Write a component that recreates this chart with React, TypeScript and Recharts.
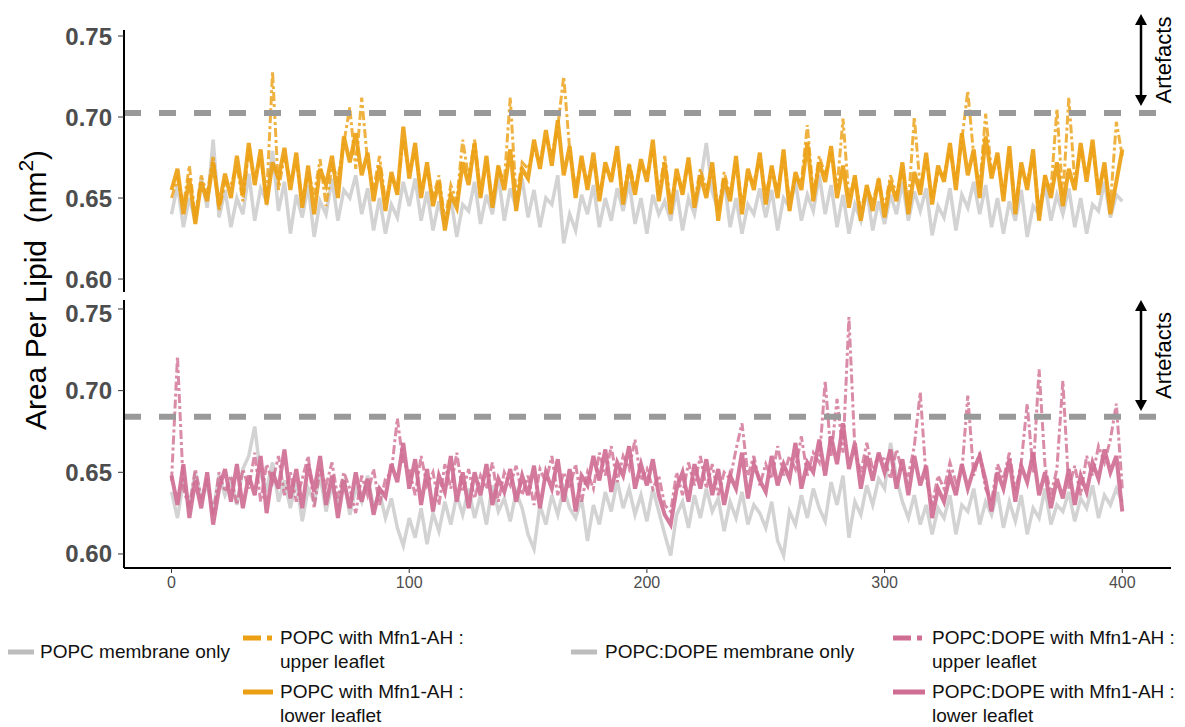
import React from "react";
import { LineChart, Line, XAxis, YAxis, ReferenceLine } from "recharts";

// sampled every 2.5 ns, values in 1/1000 nm^2
const TIME_STEP = 2.5;

const popcOnly = [
  640, 658, 632, 650, 636, 662, 644, 686, 638, 655,
  632, 650, 640, 665, 636, 656, 648, 679, 642, 660,
  628, 652, 638, 658, 626, 648, 640, 662, 636, 655,
  650, 664, 640, 656, 630, 650, 628, 646, 638, 660,
  645, 662, 636, 654, 630, 648, 632, 650, 626, 646,
  642, 660, 634, 652, 640, 664, 636, 656, 644, 662,
  638, 655, 632, 650, 646, 664, 622, 640, 630, 652,
  640, 658, 632, 650, 636, 656, 642, 660, 634, 650,
  628, 652, 640, 648, 636, 655, 630, 650, 640, 660,
  684, 654, 642, 662, 632, 650, 628, 646, 640, 656,
  638, 655, 630, 650, 644, 660, 636, 652, 642, 664,
  640, 658, 632, 652, 628, 646, 636, 655, 630, 648,
  634, 652, 640, 660, 636, 654, 642, 656, 627, 645,
  638, 656, 630, 652, 644, 660, 640, 658, 632, 650,
  628, 648, 636, 655, 626, 645, 640, 658, 636, 652,
  640, 656, 632, 650, 628, 646, 642, 660, 638, 652,
  648,
];

const popcUpper = [
  650, 662, 645, 670, 638, 664, 652, 676, 642, 660,
  658, 670, 648, 680, 662, 675, 650, 728, 655, 676,
  660, 672, 648, 666, 652, 674, 645, 670, 662, 684,
  706, 668, 712, 672, 655, 676, 648, 662, 656, 686,
  666, 678, 655, 668, 650, 664, 636, 658, 648, 686,
  662, 686, 652, 672, 648, 668, 660, 712, 650, 672,
  668, 680, 672, 688, 676, 694, 725, 680, 656, 672,
  660, 674, 652, 668, 664, 678, 650, 672, 656, 670,
  664, 680, 652, 676, 646, 664, 656, 672, 648, 668,
  655, 668, 642, 666, 652, 672, 646, 664, 660, 674,
  652, 668, 655, 676, 648, 662, 660, 695, 652, 676,
  664, 678, 656, 699, 650, 662, 642, 656, 648, 660,
  644, 664, 652, 668, 646, 700, 656, 674, 650, 666,
  664, 680, 660, 686, 716, 676, 656, 702, 666, 674,
  652, 678, 646, 668, 660, 676, 642, 662, 655, 705,
  650, 712, 660, 680, 664, 682, 656, 668, 646, 697,
  676,
];

const popcLower = [
  655, 668, 640, 662, 634, 660, 648, 672, 645, 665,
  650, 676, 652, 684, 658, 680, 646, 672, 662, 681,
  655, 678, 644, 670, 640, 668, 658, 676, 650, 688,
  672, 690, 664, 678, 648, 670, 642, 666, 652, 694,
  662, 684, 650, 672, 645, 660, 630, 652, 644, 672,
  658, 684, 650, 676, 644, 670, 655, 680, 642, 668,
  662, 686, 668, 692, 670, 698, 664, 682, 650, 676,
  655, 678, 648, 672, 660, 682, 646, 670, 652, 674,
  660, 686, 648, 672, 640, 668, 652, 675, 644, 664,
  650, 672, 636, 662, 648, 676, 640, 668, 655, 678,
  646, 670, 650, 680, 642, 666, 655, 684, 648, 672,
  660, 682, 650, 670, 644, 664, 636, 658, 642, 662,
  638, 660, 648, 672, 640, 666, 652, 678, 646, 670,
  660, 684, 655, 690, 664, 680, 650, 688, 662, 678,
  648, 682, 640, 672, 655, 680, 636, 664, 650, 672,
  645, 668, 655, 684, 660, 686, 652, 672, 640, 660,
  680,
];

const dopeOnly = [
  638, 622, 645, 630, 650, 634, 642, 626, 648, 636,
  645, 630, 652, 660, 678, 648, 640, 656, 632, 645,
  628, 645, 620, 640, 632, 648, 626, 642, 630, 646,
  624, 640, 632, 648, 628, 638, 622, 634, 616, 605,
  622, 610, 628, 606, 625, 614, 632, 618, 636, 624,
  640, 622, 636, 618, 642, 626, 634, 620, 638, 628,
  612, 603, 630, 618, 636, 624, 640, 628, 622, 634,
  608, 630, 618, 638, 626, 645, 628, 640, 624, 636,
  620, 640, 626, 612, 599, 624, 632, 616, 636, 622,
  640, 626, 634, 614, 632, 622, 638, 618, 630, 625,
  616, 632, 608, 599, 626, 618, 636, 622, 640, 628,
  620, 644, 630, 648, 610, 632, 624, 642, 630, 646,
  640, 668, 646, 632, 622, 636, 618, 630, 612, 628,
  622, 636, 612, 630, 626, 640, 618, 632, 624, 638,
  616, 632, 620, 636, 612, 628, 622, 640, 618, 630,
  626, 638, 620, 634, 628, 642, 622, 636, 630, 640,
  632,
];

const dopeUpper = [
  645, 721, 640, 628, 652, 634, 646, 624, 650, 638,
  648, 630, 652, 640, 662, 632, 655, 644, 660, 636,
  650, 632, 646, 660, 628, 652, 642, 656, 634, 650,
  640, 625, 648, 636, 652, 630, 646, 650, 683, 655,
  652, 636, 660, 642, 650, 630, 655, 640, 662, 638,
  652, 634, 648, 640, 656, 632, 650, 642, 654, 636,
  648, 630, 652, 644, 660, 636, 650, 640, 655, 632,
  650, 640, 662, 648, 666, 644, 660, 652, 670, 645,
  652, 640, 648, 630, 626, 650, 636, 656, 642, 660,
  640, 655, 636, 650, 646, 664, 680, 648, 660, 642,
  655, 646, 666, 648, 660, 652, 672, 648, 662, 656,
  706, 660, 695, 662, 745, 664, 650, 668, 652, 660,
  658, 646, 664, 650, 648, 666, 699, 646, 630, 648,
  640, 656, 644, 650, 697, 648, 662, 640, 632, 655,
  646, 662, 638, 656, 692, 650, 713, 654, 636, 652,
  706, 640, 654, 636, 660, 648, 666, 656, 670, 692,
  640,
];

const dopeLower = [
  648, 630, 655, 622, 645, 628, 650, 618, 640, 652,
  632, 655, 628, 648, 636, 660, 625, 650, 640, 664,
  634, 652, 628, 655, 638, 660, 630, 648, 622, 645,
  628, 650, 632, 646, 624, 640, 635, 655, 644, 668,
  640, 658, 630, 652, 626, 648, 638, 660, 632, 650,
  628, 650, 636, 655, 630, 646, 638, 652, 632, 648,
  636, 654, 628, 650, 640, 658, 632, 652, 626, 648,
  642, 660, 645, 664, 638, 656, 648, 666, 640, 655,
  642, 658, 636, 624, 618, 640, 650, 632, 655, 640,
  658, 636, 652, 630, 648, 640, 662, 634, 655, 645,
  638, 660, 642, 655, 646, 668, 640, 656, 650, 670,
  648, 672, 655, 680, 652, 668, 640, 660, 645, 662,
  650, 664, 640, 658, 636, 660, 642, 654, 622, 640,
  632, 648, 636, 655, 640, 652, 660, 645, 626, 650,
  640, 658, 632, 654, 644, 662, 636, 650, 628, 646,
  634, 652, 630, 648, 638, 656, 646, 664, 650, 660,
  626,
];

const yTicks = [0.6, 0.65, 0.7, 0.75];
const xTicks = [0, 100, 200, 300, 400];
const popcCutoff = 0.7025;
const dopeCutoff = 0.684;

const FONT = '"Liberation Sans", Arial, Helvetica, sans-serif';
const GREY = "#d3d3d3";
const ORANGE = "#eb9f12";
const PINK = "#cf6e92";

const popcRows = popcOnly.map((v, i) => ({
  t: i * TIME_STEP,
  membrane: v / 1000,
  upper: popcUpper[i] / 1000,
  lower: popcLower[i] / 1000,
}));

const dopeRows = dopeOnly.map((v, i) => ({
  t: i * TIME_STEP,
  membrane: v / 1000,
  upper: dopeUpper[i] / 1000,
  lower: dopeLower[i] / 1000,
}));

const yAxisProps = {
  type: "number" as const,
  width: 124,
  ticks: yTicks,
  allowDataOverflow: true,
  tickFormatter: (v: number) => v.toFixed(2),
  tick: { fill: "#4d4d4d", fontSize: 24, fontWeight: "bold", fontFamily: FONT },
  axisLine: { stroke: "#000", strokeWidth: 2 },
  tickLine: { stroke: "#333" },
  tickSize: 6,
  tickMargin: 6,
};

const LegendItem = ({ keyX, keyW, textX, y, color, dashed, lines }: any) => (
  <>
    <svg style={{ position: "absolute", left: keyX, top: y - 4 }} width={keyW} height={8}>
      <line x1={0} x2={keyW} y1={4} y2={4} stroke={color} strokeWidth={5}
        strokeDasharray={dashed ? "18 6 5 20" : undefined} />
    </svg>
    <div style={{ position: "absolute", left: textX, top: y - 12, fontSize: 19, lineHeight: "24px", whiteSpace: "nowrap", color: "#111" }}>
      {lines.map((l: string) => <div key={l}>{l}</div>)}
    </div>
  </>
);

const Artefacts = ({ y1, y2 }: { y1: number; y2: number }) => (
  <>
    <line x1={1141} x2={1141} y1={y1 + 8} y2={y2 - 8} stroke="#000" strokeWidth={2.5} />
    <polygon points={`1141,${y1} 1135,${y1 + 11} 1147,${y1 + 11}`} fill="#000" />
    <polygon points={`1141,${y2} 1135,${y2 - 11} 1147,${y2 - 11}`} fill="#000" />
    <text x={1163} y={(y1 + y2) / 2} transform={`rotate(-90 1163 ${(y1 + y2) / 2})`}
      textAnchor="middle" dominantBaseline="central" fontSize={22} fontFamily={FONT} fill="#000">
      Artefacts
    </text>
  </>
);

export default function App() {
  return (
    <div style={{ position: "absolute", left: 0, top: 0, width: 1185, height: 727, background: "#fff", fontFamily: FONT }}>
      <div style={{ position: "absolute", left: 0, top: 0 }}>
        <LineChart width={1185} height={300} data={popcRows} margin={{ top: 30, right: 14, bottom: 8, left: 0 }}>
          <XAxis dataKey="t" type="number" domain={[-20, 420.5]} hide />
          <YAxis {...yAxisProps} domain={[0.592, 0.7537]} />
          <Line dataKey="membrane" stroke={GREY} strokeWidth={3.5} dot={false} isAnimationActive={false} />
          <Line dataKey="upper" stroke={ORANGE} strokeOpacity={0.8} strokeWidth={3} strokeDasharray="9 3 3 3" dot={false} isAnimationActive={false} />
          <Line dataKey="lower" stroke={ORANGE} strokeOpacity={0.92} strokeWidth={4} dot={false} isAnimationActive={false} />
          <ReferenceLine y={popcCutoff} stroke="#999" strokeWidth={6} strokeDasharray="17 18" />
        </LineChart>
      </div>
      <div style={{ position: "absolute", left: 0, top: 300 }}>
        <LineChart width={1185} height={310} data={dopeRows} margin={{ top: 0, right: 14, bottom: 12, left: 0 }}>
          <XAxis dataKey="t" type="number" domain={[-20, 420.5]} ticks={xTicks} height={30}
            axisLine={{ stroke: "#000", strokeWidth: 2 }} tickLine={{ stroke: "#333" }} tickSize={5} tickMargin={4}
            tick={{ fill: "#4d4d4d", fontSize: 16, fontFamily: FONT }} />
          <YAxis {...yAxisProps} domain={[0.5914, 0.7555]} />
          <Line dataKey="membrane" stroke={GREY} strokeWidth={3.5} dot={false} isAnimationActive={false} />
          <Line dataKey="upper" stroke={PINK} strokeOpacity={0.8} strokeWidth={3} strokeDasharray="9 3 3 3" dot={false} isAnimationActive={false} />
          <Line dataKey="lower" stroke={PINK} strokeOpacity={0.92} strokeWidth={4} dot={false} isAnimationActive={false} />
          <ReferenceLine y={dopeCutoff} stroke="#999" strokeWidth={6} strokeDasharray="17 18" />
        </LineChart>
      </div>

      <svg style={{ position: "absolute", left: 0, top: 0, pointerEvents: "none" }} width={1185} height={727}>
        <Artefacts y1={14} y2={106} />
        <Artefacts y1={300} y2={411} />
      </svg>

      <div style={{ position: "absolute", left: 36, top: 290, transform: "translate(-50%, -50%) rotate(-90deg)", fontSize: 30, lineHeight: 1, whiteSpace: "nowrap", color: "#000" }}>
        Area Per Lipid&nbsp; (nm<sup style={{ fontSize: "0.7em", verticalAlign: "0.6em", lineHeight: 0 }}>2</sup>)
      </div>

      <LegendItem keyX={8} keyW={26} textX={40} y={652} color="#bdbdbd" lines={["POPC membrane only"]} />
      <LegendItem keyX={243} keyW={30} textX={280} y={638} color={ORANGE} dashed lines={["POPC with Mfn1-AH :", "upper leaflet"]} />
      <LegendItem keyX={243} keyW={30} textX={280} y={692} color={ORANGE} lines={["POPC with Mfn1-AH :", "lower leaflet"]} />
      <LegendItem keyX={571} keyW={26} textX={605} y={652} color="#bdbdbd" lines={["POPC:DOPE membrane only"]} />
      <LegendItem keyX={893} keyW={32} textX={932} y={638} color={PINK} dashed lines={["POPC:DOPE with Mfn1-AH :", "upper leaflet"]} />
      <LegendItem keyX={893} keyW={32} textX={932} y={692} color={PINK} lines={["POPC:DOPE with Mfn1-AH :", "lower leaflet"]} />
    </div>
  );
}
